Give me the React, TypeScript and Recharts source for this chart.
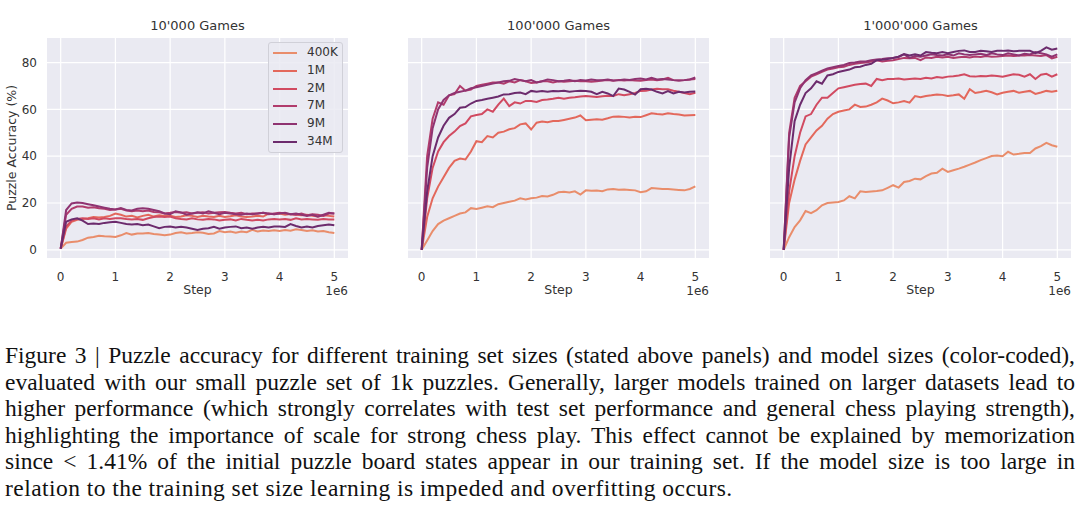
import { LineChart, Line, XAxis, YAxis, CartesianGrid, Legend, Label } from 'recharts';

// training steps, in units of 1e6
const steps = [
  0, 0.1, 0.2, 0.3, 0.4, 0.5, 0.6, 0.7, 0.8, 0.9,
  1.0, 1.1, 1.2, 1.3, 1.4, 1.5, 1.6, 1.7, 1.8, 1.9,
  2.0, 2.1, 2.2, 2.3, 2.4, 2.5, 2.6, 2.7, 2.8, 2.9,
  3.0, 3.1, 3.2, 3.3, 3.4, 3.5, 3.6, 3.7, 3.8, 3.9,
  4.0, 4.1, 4.2, 4.3, 4.4, 4.5, 4.6, 4.7, 4.8, 4.9,
  5.0,
];

const models = ['400K', '1M', '2M', '7M', '9M', '34M'];
const colors = ['#e98d6b', '#e3685c', '#d14a61', '#b13c6c', '#8f3371', '#6c2b6d'];
const xTicks = [0, 1, 2, 3, 4, 5];
const yTicks = [0, 20, 40, 60, 80];
const titles = ["10'000 Games", "100'000 Games", "1'000'000 Games"];

// 10'000 games
const g10k_400K = [
  0.5, 3, 3.3, 3.5, 4.2, 5.2, 5.5, 6, 5.8, 5.7,
  5.5, 6.2, 7.2, 6.5, 7, 7, 7.2, 6.8, 6.5, 6.2,
  6.5, 7.2, 7.5, 7, 7.2, 7.5, 7.3, 6.8, 7, 8,
  7.5, 7.8, 7.3, 7.8, 7.5, 8.5, 7.8, 8.2, 8, 8.3,
  8, 8.5, 8.2, 8.8, 8.5, 8, 8.3, 7.8, 8, 7.5,
  7.2,
];
const g10k_1M = [
  0.5, 9, 12, 12.8, 13.2, 13.5, 14, 13.8, 14, 14.5,
  15.5, 15, 14.2, 14.5, 13.8, 14.5, 15, 14.2, 14.8, 14.5,
  14.5, 14, 14.2, 14.8, 14.5, 14, 14.5, 14.2, 14, 14.5,
  14, 14.3, 14.8, 14.2, 14, 14.2, 14.5, 14.2, 15.5, 15.2,
  15.5, 15, 15.3, 15, 14.8, 15, 14.5, 14.2, 14.8, 14.5,
  14.2,
];
const g10k_2M = [
  0.5, 10, 12.5, 13.2, 13.5, 13.2, 13.5, 13, 13.5, 13.2,
  13.5, 13.5, 13.2, 13, 13.2, 12.8, 13.5, 14, 14.2, 14,
  14.2, 13.5, 13.2, 13, 13.5, 13, 12.8, 13.2, 13, 12.5,
  12.8, 13, 12.5, 13.2, 12.8, 12.5, 12.8, 12.5, 13, 13.2,
  13, 13.2, 12.8, 13.5, 13, 13.2, 13, 12.8, 13.2, 13,
  13,
];
const g10k_7M = [
  0.5, 15, 17.5, 18.5, 18.5, 18, 18.2, 17.8, 17.5, 17,
  17.2, 17.5, 16.8, 16.5, 16.8, 16.5, 16.8, 16.2, 16, 15.5,
  15.8, 16.2, 15.8, 16, 15.5, 15.8, 16, 15.5, 15.8, 16,
  16.2, 15.8, 15.5, 15.8, 15.2, 15.5, 15.5, 15.8, 15.2, 15.5,
  15.8, 15.5, 15.2, 15, 15.5, 14.8, 15.2, 15, 14.5, 15.5,
  15.5,
];
const g10k_9M = [
  0.5, 17, 19.8, 20.2, 20, 19.5, 19, 18.5, 18, 17.5,
  17.2, 17.8, 17, 16.8, 17.5, 17.8, 17.5, 17, 16.5, 15.5,
  15.2, 16.5, 16, 15, 15.5, 16, 15.5, 16.5, 15.8, 15.2,
  15.8, 15.5, 15.2, 15, 15.5, 15.2, 15.5, 15.8, 15.5, 15.2,
  15.5, 15.8, 15.2, 15.5, 15, 14.5, 15, 14.2, 15, 15.8,
  15.5,
];
const g10k_34M = [
  0.5, 12, 13, 13.5, 12.5, 11, 11.2, 11, 11.5, 11.8,
  12, 11.5, 11, 10.8, 11, 10.5, 10.8, 10, 9.2, 9.8,
  10, 9.5, 9.8, 9.5, 9, 8.5, 9, 9.2, 9.8, 9,
  9.5, 9.8, 10, 9.2, 9.5, 9, 9.5, 9.8, 9.5, 10,
  10, 9.8, 11, 10.2, 9.5, 10, 9.5, 10.2, 10.5, 10.8,
  10.5,
];

// 100'000 games
const g100k_400K = [
  0, 4, 8, 11, 12.5, 13.5, 14.5, 15.5, 16, 17.8,
  17.4, 18, 18.6, 18.2, 19.5, 20, 20.5, 21, 22, 21.5,
  22, 22.3, 23, 22.8, 23.5, 24.6, 24.8, 24.5, 25, 23.6,
  25.4, 25.2, 25.3, 25, 25.8, 26, 25.7, 25.8, 25.6, 25.4,
  24.6, 25, 26.4, 26.2, 26, 26, 25.8, 25.6, 25.4, 26,
  27.1,
];
const g100k_1M = [
  0, 14, 22, 27, 31, 35, 38, 39, 38.6, 42,
  46.4, 46, 48.6, 48, 50, 50.5, 51.5, 52, 53.6, 54,
  51.4, 54.3, 54.8, 54.5, 55, 55, 55.5, 56, 56.5, 57.4,
  55.4, 55.6, 55.8, 55.6, 56.2, 56.9, 57, 56.8, 56.5, 56.8,
  56.7, 57.5, 58.3, 58, 57.8, 58.3, 58, 57.8, 57.4, 57.5,
  57.6,
];
const g100k_2M = [
  0, 22, 35, 42, 46, 48.6, 50.5, 52.9, 54, 57,
  57.6, 58, 60, 59, 62, 64.6, 61.4, 63, 62.5, 63.6,
  63.6, 63.2, 64, 64.2, 64.5, 65, 64.5, 65, 65.2, 65.5,
  65.7, 65.5, 65.3, 65.6, 65.8, 65.7, 66.5, 66, 66.5, 67,
  67.9, 68, 68.5, 68.8, 68.6, 68.6, 68, 67.5, 67, 66.5,
  67.1,
];
const g100k_7M = [
  0, 40, 56, 63, 62, 66, 66.5, 70, 68, 68.5,
  70, 70.5, 71, 71.5, 71.5, 71, 72, 71.5, 72.5, 72,
  71.3, 71.5, 72, 72, 71.5, 72, 71.8, 72, 72.2, 72,
  72, 71.8, 72, 72.3, 72.5, 72.2, 72.5, 72.3, 72.5, 72.3,
  72.2, 72.5, 72.8, 72.5, 72.8, 73.5, 72.5, 72.3, 72.5, 72.8,
  73,
];
const g100k_9M = [
  0, 35, 52, 60, 64, 66, 67, 67.5, 68, 69,
  69.5, 70, 70.5, 71, 71.5, 72, 72.2, 73, 72.5, 72,
  72.5, 71.5, 72, 72.8, 72.5, 72, 72.2, 72.5, 72, 72.5,
  72.3, 72.8, 72.5, 72.5, 72.8, 72.3, 72.5, 72.8, 72.6, 73,
  73.2, 72.8, 73.5, 72.8, 73, 72.8, 72.5, 72.3, 72.5, 72.8,
  73.6,
];
const g100k_34M = [
  0, 25, 40, 48, 53, 56.4, 58, 60.7, 61, 62.5,
  63.6, 64, 64.5, 65, 65.5, 66.4, 66.5, 67, 67.2, 66.5,
  67.9, 67.5, 67.8, 67.5, 67.9, 67.8, 68, 67.5, 67.8, 68,
  67.9, 67.5, 66.5, 67.5, 66.8, 65.7, 68.9, 68.5, 67.5, 66.3,
  68.6, 68.8, 68.5, 67.5, 66.8, 67.8, 66.8, 67.5, 67.2, 67.5,
  67.6,
];

// 1'000'000 games
const g1m_400K = [
  0, 5.4, 9.7, 12.6, 16.6, 15.7, 16.9, 19, 20, 20.2,
  20.4, 21.1, 22.9, 22, 25, 24.7, 24.9, 25.1, 25.4, 26.5,
  27.6, 26.6, 29, 29.4, 30.4, 30.1, 31.5, 32.6, 32.9, 34.7,
  33.3, 34, 34.7, 35.5, 36.4, 37.3, 38.3, 39.2, 40.1, 40.3,
  40, 41.9, 40.7, 41, 41.4, 41.4, 43.3, 44.3, 45.7, 44.7,
  44,
];
const g1m_1M = [
  0, 20, 30, 38, 45, 48, 51, 53, 56, 58,
  59, 59.5, 60, 62, 61, 61.2, 62, 63, 64.6, 63.8,
  62.6, 63, 63.6, 62.9, 65.7, 65.2, 65.7, 66, 66.4, 66.2,
  65.7, 66, 66.4, 64.5, 68.6, 67, 67.4, 67.9, 67.3, 66.4,
  67.1, 67.5, 67.9, 67.1, 67.5, 67.9, 66.6, 67.2, 67.9, 67.5,
  68,
];
const g1m_2M = [
  0, 25, 40, 50, 57, 58, 62, 65, 65, 67,
  69, 69.5, 70, 70.5, 70.8, 71, 70, 73, 72.5, 73,
  73, 73.2, 72.8, 73, 73.2, 73, 73.5, 73.2, 73.8, 73.5,
  74, 74.2, 74.5, 75, 74.2, 74, 74.3, 74.2, 74.5, 74.3,
  74, 74.5, 75, 74.8, 74, 75, 73, 74.8, 75.2, 74,
  75,
];
const g1m_7M = [
  0, 50, 65, 70, 72, 74, 75, 76, 77, 77.5,
  78, 78.2, 79, 79.5, 79.8, 80, 80.5, 81, 80.5, 80.8,
  81, 81.5, 82, 81.8, 82, 81, 82.2, 82, 82.5, 82.2,
  82.5, 82, 82.3, 82.5, 82.2, 82.6, 82.4, 82.8, 82.5, 82.6,
  82.8, 83, 82.8, 83, 83, 83.2, 83, 82.8, 83.2, 81.8,
  82.5,
];
const g1m_9M = [
  0, 48, 63, 69, 72.5, 74.5, 75.5, 76.5, 77.5, 78,
  78.5, 79, 79.8, 80, 80.5, 80.5, 81, 81.3, 81.5, 81.8,
  82, 82.5, 83.5, 82, 82.8, 82.5, 83, 83.5, 83.2, 83,
  83.5, 83, 84, 83.5, 83.2, 83.5, 83.8, 83.2, 84, 83.5,
  83.2, 84, 83.5, 83, 83.8, 83.5, 84.5, 84, 83.5, 82.5,
  83.5,
];
const g1m_34M = [
  0, 35, 55, 62, 67, 69, 72, 71, 74.5, 75,
  76, 76.5, 77, 78, 78.2, 79, 79.5, 81, 81.2, 81.5,
  82, 82.5, 83.6, 83, 83.5, 83, 84.5, 84.2, 84, 84.5,
  84, 84.5, 85, 85.2, 84.5, 84.5, 85, 84.8, 84.5, 85,
  85, 85.2, 84.8, 85, 85, 85, 84, 85, 86.5, 85.5,
  86,
];

const panels = [
  [g10k_400K, g10k_1M, g10k_2M, g10k_7M, g10k_9M, g10k_34M],
  [g100k_400K, g100k_1M, g100k_2M, g100k_7M, g100k_9M, g100k_34M],
  [g1m_400K, g1m_1M, g1m_2M, g1m_7M, g1m_9M, g1m_34M],
];

const captionLines = [
  'Figure 3 | Puzzle accuracy for different training set sizes (stated above panels) and model sizes (color-coded),',
  'evaluated with our small puzzle set of 1k puzzles. Generally, larger models trained on larger datasets lead to',
  'higher performance (which strongly correlates with test set performance and general chess playing strength),',
  'highlighting the importance of scale for strong chess play. This effect cannot be explained by memorization',
  'since < 1.41% of the initial puzzle board states appear in our training set. If the model size is too large in',
  'relation to the training set size learning is impeded and overfitting occurs.',
];

const buildRows = (series: number[][]) =>
  steps.map((step, i) => {
    const row: Record<string, number> = { step };
    models.forEach((m, k) => {
      row[m] = series[k][i];
    });
    return row;
  });

const FONT = '"DejaVu Sans", sans-serif';
const TEXT = '#333333';

const XLabel = (props: any) => {
  const { x, y, width } = props.viewBox;
  return (
    <g>
      <text x={x + width / 2} y={y + 36} textAnchor="middle" fontSize={12.5} fontFamily={FONT} fill={TEXT}>
        Step
      </text>
      <text x={x + width} y={y + 37} textAnchor="end" fontSize={12} fontFamily={FONT} fill={TEXT}>
        1e6
      </text>
    </g>
  );
};

const YLabel = (props: any) => {
  const { y, height } = props.viewBox;
  const cy = y + height / 2;
  return (
    <text
      x={11}
      y={cy}
      transform={`rotate(-90, 11, ${cy})`}
      textAnchor="middle"
      dominantBaseline="central"
      fontSize={12.5}
      fontFamily={FONT}
      fill={TEXT}
    >
      Puzzle Accuracy (%)
    </text>
  );
};

const LegendBox = (props: any) => {
  const payload = [...(props.payload || [])].sort(
    (a: any, b: any) => models.indexOf(a.value) - models.indexOf(b.value)
  );
  return (
    <div
      style={{
        position: 'relative',
        background: 'rgba(234,234,242,0.85)',
        border: '1px solid #d0d0d8',
        borderRadius: 3,
        fontFamily: FONT,
        fontSize: 12,
        color: TEXT,
        textAlign: 'left',
        boxSizing: 'border-box',
        width: 75,
        height: 111,
      }}
    >
      {payload.map((item: any, i: number) => (
        <div key={item.value} style={{ position: 'absolute', left: 0, top: 1 + i * 17.8, width: 73, height: 17.8 }}>
          <div style={{ position: 'absolute', left: 4, top: 8, width: 24, height: 2, background: item.color }} />
          <div style={{ position: 'absolute', left: 38, top: 0, lineHeight: '17.8px', whiteSpace: 'nowrap' }}>
            {item.value}
          </div>
        </div>
      ))}
    </div>
  );
};

const Panel = ({ index, left, marginLeft, marginRight }: { index: number; left: number; marginLeft: number; marginRight: number }) => {
  const rows = buildRows(panels[index]);
  const first = index === 0;
  const plotCenter = left + marginLeft + (first ? 47 : 0) + 150.5;
  return (
    <>
      <div
        style={{
          position: 'absolute',
          left: plotCenter - 100,
          width: 200,
          top: 18,
          lineHeight: '16px',
          textAlign: 'center',
          fontFamily: FONT,
          fontSize: 13,
          color: TEXT,
        }}
      >
        {titles[index]}
      </div>
      <div style={{ position: 'absolute', left, top: 0 }}>
        <LineChart width={360} height={300} data={rows} margin={{ top: 38, right: marginRight, bottom: 0, left: marginLeft }}>
          <CartesianGrid
            fill="#eaeaf2"
            stroke="#ffffff"
            strokeWidth={1.2}
            horizontalValues={yTicks}
            verticalValues={xTicks}
          />
          <XAxis
            dataKey="step"
            type="number"
            domain={[-0.25, 5.25]}
            ticks={xTicks}
            allowDataOverflow
            axisLine={false}
            tickLine={false}
            tickSize={0}
            tickMargin={14}
            height={42}
            tick={{ fill: TEXT, fontSize: 12, fontFamily: FONT }}
          >
            <Label content={XLabel} />
          </XAxis>
          <YAxis
            type="number"
            domain={[-3.5, 90.5]}
            ticks={yTicks}
            allowDataOverflow
            hide={!first}
            width={47}
            axisLine={false}
            tickLine={false}
            tickSize={0}
            tickMargin={10}
            tick={{ fill: TEXT, fontSize: 12, fontFamily: FONT }}
          >
            {first && <Label content={YLabel} />}
          </YAxis>
          {first && (
            <Legend
              layout="vertical"
              align="center"
              verticalAlign="middle"
              itemSorter={null}
              wrapperStyle={{ left: 268, top: 42, width: 75 }}
              content={LegendBox}
            />
          )}
          {models.map((m, k) => (
            <Line
              key={m}
              type="linear"
              dataKey={m}
              name={m}
              stroke={colors[k]}
              strokeWidth={2}
              dot={false}
              isAnimationActive={false}
            />
          ))}
        </LineChart>
      </div>
    </>
  );
};

export default function App() {
  return (
    <div style={{ position: 'absolute', left: 0, top: 0, width: 1080, height: 510, background: '#ffffff', overflow: 'hidden' }}>
      <Panel index={0} left={0} marginLeft={0} marginRight={12} />
      <Panel index={1} left={360} marginLeft={48} marginRight={11} />
      <Panel index={2} left={720} marginLeft={50} marginRight={9} />
      <div
        style={{
          position: 'absolute',
          left: 5,
          top: 342,
          width: 1070,
          fontFamily: '"Liberation Serif", serif',
          fontSize: 23.5,
          lineHeight: '26.6px',
          color: '#111111',
        }}
      >
        {captionLines.map((line, i) => {
          const last = i === captionLines.length - 1;
          return (
            <div
              key={i}
              style={{
                textAlign: 'justify',
                textAlignLast: last ? 'left' : 'justify',
                letterSpacing: last ? '0.45px' : undefined,
              }}
            >
              {line}
            </div>
          );
        })}
      </div>
    </div>
  );
}
